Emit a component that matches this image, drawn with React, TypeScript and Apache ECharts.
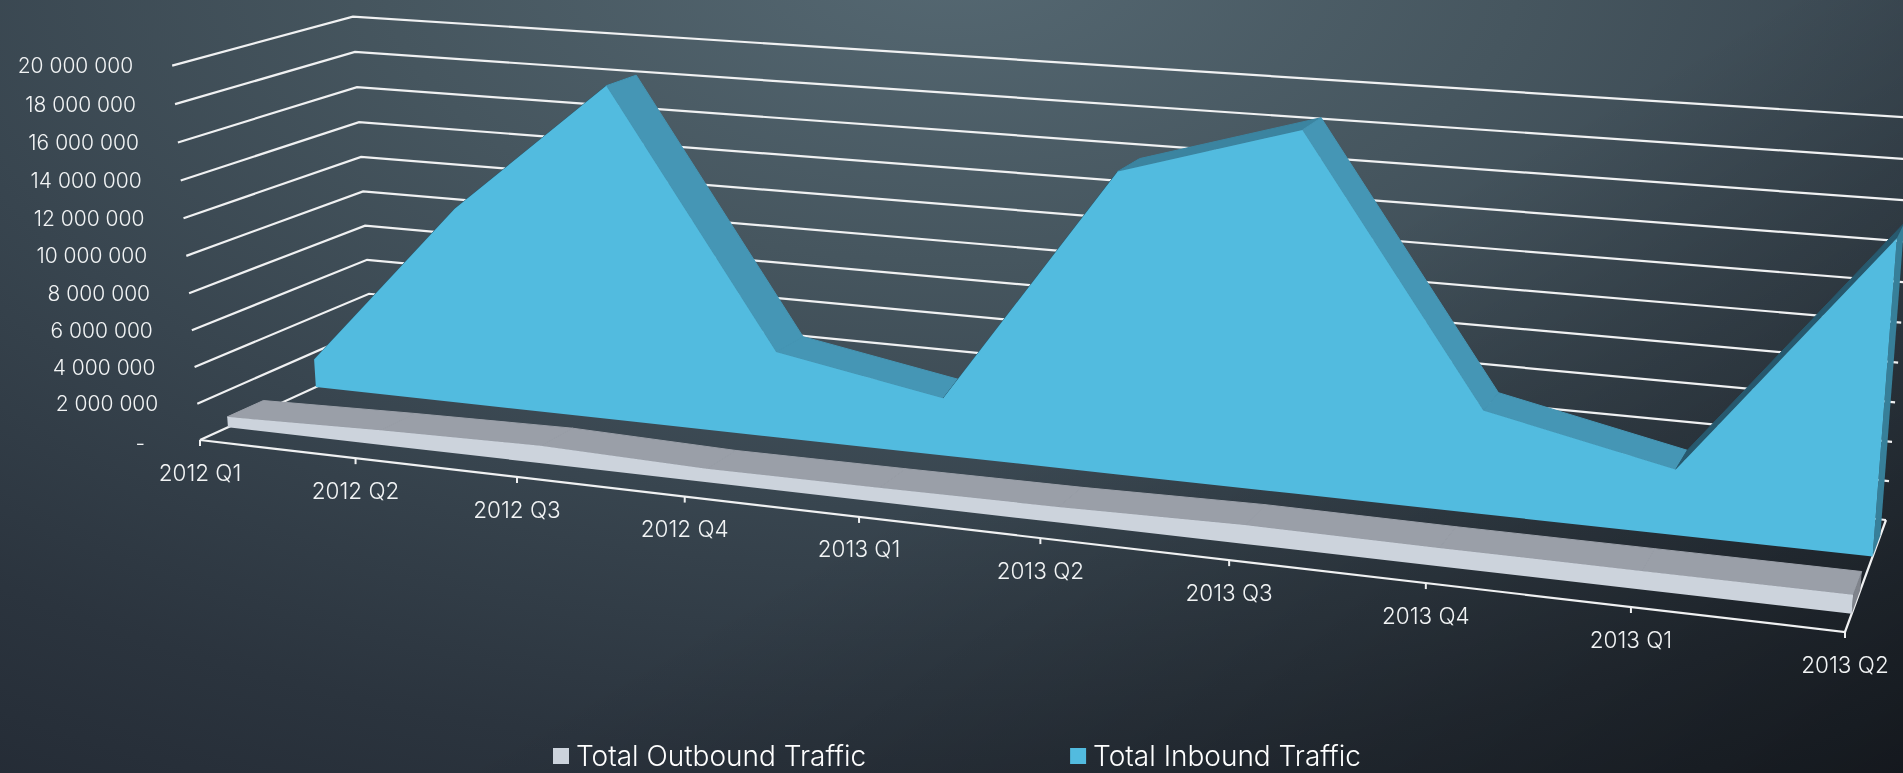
import React, { useEffect, useRef } from "react";
import * as echarts from "echarts";

const categories = ["2012 Q1", "2012 Q2", "2012 Q3", "2012 Q4", "2013 Q1", "2013 Q2", "2013 Q3", "2013 Q4", "2013 Q1", "2013 Q2"];
const outboundTraffic = [580000, 800000, 950000, 720000, 750000, 800000, 950000, 900000, 900000, 900000];
const inboundTraffic = [1600000, 10950000, 18300000, 4700000, 3100000, 15800000, 18550000, 5300000, 3300000, 15450000];
const valueTicks = [0, 2000000, 4000000, 6000000, 8000000, 10000000, 12000000, 14000000, 16000000, 18000000, 20000000];
const valueTickLabels = ["-", "2 000 000", "4 000 000", "6 000 000", "8 000 000", "10 000 000", "12 000 000", "14 000 000", "16 000 000", "18 000 000", "20 000 000"];

const FONT = "Inter";
const LINE = "#f0f1f2";
const GRID = { left: 100, top: 100, width: 1000, height: 500 };

// --- perspective camera calibration: (x, z) floor corners and wall tops
function solve(A: number[][], b: number[]) {
  const n = b.length;
  const M = A.map((r, i) => [...r, b[i]]);
  for (let c = 0; c < n; c++) {
    let p = c;
    for (let r = c + 1; r < n; r++) if (Math.abs(M[r][c]) > Math.abs(M[p][c])) p = r;
    [M[c], M[p]] = [M[p], M[c]];
    for (let r = 0; r < n; r++) {
      if (r === c) continue;
      const f = M[r][c] / M[c][c];
      for (let k = c; k <= n; k++) M[r][k] -= f * M[c][k];
    }
  }
  return M.map((r, i) => r[n] / r[i]);
}
const floorCorners = [
  [0, 0, 200, 440],
  [1, 0, 1845, 632],
  [1, 1, 1886, 520],
  [0, 1, 373, 361],
];
const wallTops = [
  [0, 0, 172, 71],
  [0, 1, 353, 15],
  [1, 1, 1917, 114],
];
const homography = (() => {
  const A: number[][] = [];
  const b: number[] = [];
  for (const [x, z, u, v] of floorCorners) {
    A.push([x, z, 1, 0, 0, 0, -u * x, -u * z]);
    b.push(u);
    A.push([0, 0, 0, x, z, 1, -v * x, -v * z]);
    b.push(v);
  }
  const h = solve(A, b);
  return [h.slice(0, 3), h.slice(3, 6), [h[6], h[7], 1]];
})();
const heightColumn = (() => {
  const rows: number[][] = [];
  const rhs: number[] = [];
  for (const [x, z, u, v] of wallTops) {
    const a = homography.map((r) => r[0] * x + r[1] * z + r[2]);
    rows.push([1, 0, -u]);
    rhs.push(u * a[2] - a[0]);
    rows.push([0, 1, -v]);
    rhs.push(v * a[2] - a[1]);
  }
  const N = [0, 1, 2].map((i) => [0, 1, 2].map((j) => rows.reduce((s, r) => s + r[i] * r[j], 0)));
  const t = [0, 1, 2].map((i) => rows.reduce((s, r, k) => s + r[i] * rhs[k], 0));
  return solve(N, t);
})();
function project(x: number, y: number, z: number) {
  const p = homography.map((r, i) => r[0] * x + r[1] * z + r[2] + heightColumn[i] * y);
  return [p[0] / p[2], p[1] / p[2]];
}
// maps a hidden-grid pixel from the ECharts scales into the 3D box
function toBox(api: any, i: number, value: number) {
  const c = api.coord([i, value]);
  return [(c[0] - GRID.left) / GRID.width, (GRID.top + GRID.height - c[1]) / GRID.height];
}

const OUT_BAND = [0.15, 0.35];
const IN_BAND = [0.65, 0.85];

function bandRenderer(values: number[], band: number[], colors: any) {
  return (params: any, api: any) => {
    if (params.dataIndex !== 0) return null;
    const [z0, z1] = band;
    const n = values.length;
    const box = values.map((v, i) => toBox(api, i, v));
    const base = values.map((_, i) => toBox(api, i, 0));
    const top = (i: number, z: number) => project(box[i][0], box[i][1], z);
    const bot = (i: number, z: number) => project(base[i][0], 0, z);
    const children: any[] = [];
    for (let i = 0; i < n - 1; i++) {
      const rise = values[i + 1] - values[i];
      const fill = rise > 5000000 ? colors.rising : rise > 0 ? colors.mild : colors.top;
      children.push({
        type: "polygon",
        shape: { points: [top(i, z0), top(i + 1, z0), top(i + 1, z1), top(i, z1)] },
        style: { fill, stroke: fill, lineWidth: 1 },
        silent: true,
      });
    }
    children.push({
      type: "polygon",
      shape: { points: [top(n - 1, z0), bot(n - 1, z0), bot(n - 1, z1), top(n - 1, z1)] },
      style: { fill: colors.side },
      silent: true,
    });
    const front: number[][] = [];
    for (let i = 0; i < n; i++) front.push(top(i, z0));
    for (let i = n - 1; i >= 0; i--) front.push(bot(i, z0));
    children.push({ type: "polygon", shape: { points: front }, style: { fill: colors.front }, silent: true });
    return { type: "group", children };
  };
}

function wallRenderer(params: any, api: any) {
  const value = api.value(1);
  const [, y] = toBox(api, 0, value);
  const a = project(0, y, 0);
  const b = project(0, y, 1);
  const c = project(1, y, 1);
  const label = valueTickLabels[params.dataIndex];
  return {
    type: "group",
    children: [
      { type: "polyline", shape: { points: [a, b, c] }, style: { fill: "none", stroke: LINE, lineWidth: 2.2 }, silent: true },
      {
        type: "text",
        silent: true,
        style: {
          x: a[0] - (value === 0 ? 55 : 39),
          y: a[1] + (value === 0 ? 3 : 0),
          text: label,
          fill: "#f2f4f5",
          font: `300 21px ${FONT}`,
          align: "right",
          verticalAlign: "middle",
        },
      },
    ],
  };
}

function floorRenderer(params: any, api: any) {
  const i = api.value(0);
  const [x] = toBox(api, i, 0);
  const p = project(x, 0, 0);
  const children: any[] = [
    { type: "line", shape: { x1: p[0], y1: p[1], x2: p[0], y2: p[1] + 6 }, style: { stroke: LINE, lineWidth: 2 }, silent: true },
    {
      type: "text",
      silent: true,
      style: { x: p[0], y: p[1] + 32, text: categories[params.dataIndex], fill: "#f2f4f5", font: `300 22.5px ${FONT}`, align: "center", verticalAlign: "middle" },
    },
  ];
  if (params.dataIndex === 0) {
    children.push({
      type: "polyline",
      shape: { points: [project(0, 0, 0), project(1, 0, 0), project(1, 0, 1)] },
      style: { fill: "none", stroke: LINE, lineWidth: 2.2 },
      silent: true,
    });
  }
  return { type: "group", children };
}

export default function App() {
  const ref = useRef<HTMLDivElement>(null);
  useEffect(() => {
    if (!ref.current) return;
    const chart = echarts.init(ref.current, undefined, { renderer: "svg" });
    chart.setOption({
      animation: false,
      backgroundColor: "transparent",
      grid: { ...GRID },
      xAxis: { type: "category", data: categories, boundaryGap: false, show: false },
      yAxis: { type: "value", min: 0, max: 20000000, interval: 2000000, show: false },
      legend: {
        left: 553,
        top: 742,
        padding: 0,
        itemWidth: 16,
        itemHeight: 16,
        itemGap: 204,
        icon: "rect",
        data: ["Total Outbound Traffic", "Total Inbound Traffic"],
        textStyle: { color: "#ffffff", fontFamily: FONT, fontWeight: 300, fontSize: 28, padding: [0, 0, 4, 2] },
      },
      series: [
        { type: "custom", name: "walls", data: valueTicks.map((v) => [0, v]), renderItem: wallRenderer, silent: true, z: 1 },
        { type: "custom", name: "floor", data: categories.map((_, i) => [i, 0]), renderItem: floorRenderer, silent: true, z: 2 },
        {
          type: "custom",
          name: "Total Inbound Traffic",
          data: inboundTraffic.map((v, i) => [i, v]),
          itemStyle: { color: "#52bbdf" },
          renderItem: bandRenderer(inboundTraffic, IN_BAND, { front: "#52bbdf", top: "#4596b5", mild: "#3b84a0", rising: "#27596e", side: "#377f99" }),
          silent: true,
          z: 3,
        },
        {
          type: "custom",
          name: "Total Outbound Traffic",
          data: outboundTraffic.map((v, i) => [i, v]),
          itemStyle: { color: "#ccd3dc" },
          renderItem: bandRenderer(outboundTraffic, OUT_BAND, { front: "#ccd3dc", top: "#9a9fa8", mild: "#9a9fa8", rising: "#9a9fa8", side: "#7f838b" }),
          silent: true,
          z: 4,
        },
      ],
    });
    return () => chart.dispose();
  }, []);
  return (
    <div
      ref={ref}
      style={{
        position: "fixed",
        left: 0,
        top: 0,
        width: 1903,
        height: 773,
        background:
          "linear-gradient(150deg, rgba(0,0,0,0) 55%, rgba(0,0,0,0.45) 100%), radial-gradient(ellipse 1900px 1000px at 50% -5%, #556872 0%, #46565f 30%, #38454f 55%, #2b343e 80%, #232a34 100%)",
      }}
    />
  );
}
